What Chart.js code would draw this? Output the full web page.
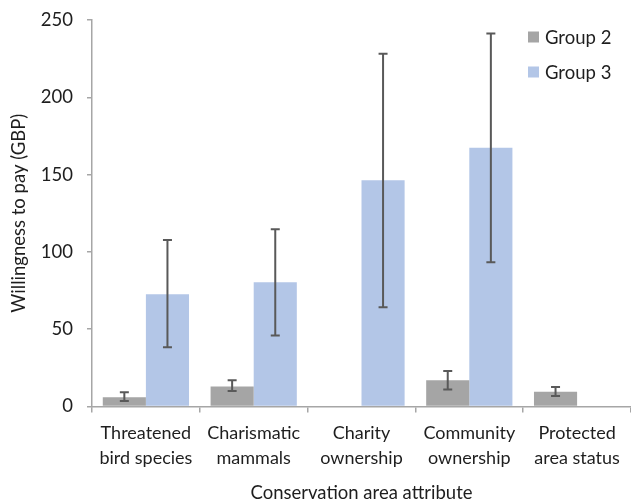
<!DOCTYPE html>
<html>
<head>
<meta charset="utf-8">
<script src="https://cdn.jsdelivr.net/npm/chart.js@4.4.0/dist/chart.umd.min.js"></script>
<style>
html,body{margin:0;padding:0;background:#fff;overflow:hidden;}
#wrap{width:631px;height:504px;position:relative;}
</style>
</head>
<body>
<div id="wrap"><canvas id="c" width="631" height="504"></canvas></div>
<script>
const categories = [["Threatened","bird species"],["Charismatic","mammals"],["Charity","ownership"],["Community","ownership"],["Protected","area status"]];
const seriesNames = ["Group 2","Group 3"];
const group2 = [6, 13, null, 17, 9.6];
const group2Low = [3.5, 10, null, 11, 6.8];
const group2High = [9.2, 17, null, 23, 12.6];
const group3 = [72.6, 80.3, 146.3, 167.4, null];
const group3Low = [38.3, 46, 64.2, 93.3, null];
const group3High = [107.7, 114.6, 228.1, 241.3, null];
const yTicks = [0, 50, 100, 150, 200, 250];
const yTitle = "Willingness to pay (GBP)";
const xTitle = "Conservation area attribute";

const FONT = "Lato, sans-serif";
const AXIS = "#a6a6a6";
const ERR = "#595959";
const TXT = "#1e1e1e";

const errorBars = {
  id: 'errorBars',
  afterDatasetsDraw(chart) {
    const ctx = chart.ctx;
    const y = chart.scales.y;
    const lows = [group2Low, group3Low];
    const highs = [group2High, group3High];
    ctx.save();
    ctx.strokeStyle = ERR;
    ctx.lineWidth = 2;
    chart.data.datasets.forEach((ds, di) => {
      const meta = chart.getDatasetMeta(di);
      meta.data.forEach((bar, i) => {
        const lo = lows[di][i], hi = highs[di][i];
        if (lo == null || hi == null) return;
        const x = bar.x;
        const yl = y.getPixelForValue(lo), yh = y.getPixelForValue(hi);
        ctx.beginPath();
        ctx.moveTo(x, yl); ctx.lineTo(x, yh);
        ctx.moveTo(x - 4.5, yl); ctx.lineTo(x + 4.5, yl);
        ctx.moveTo(x - 4.5, yh); ctx.lineTo(x + 4.5, yh);
        ctx.stroke();
      });
    });
    ctx.restore();
  }
};

const customLegend = {
  id: 'customLegend',
  afterDraw(chart) {
    const ctx = chart.ctx;
    ctx.save();
    ctx.font = "18.5px " + FONT;
    ctx.textBaseline = 'middle';
    chart.data.datasets.forEach((ds, i) => {
      const yc = 37 + i * 35;
      ctx.fillStyle = ds.backgroundColor;
      ctx.fillRect(528, yc - 5.5, 11, 11);
      ctx.fillStyle = TXT;
      ctx.fillText(ds.label, 545, yc + 1);
    });
    ctx.restore();
  }
};

new Chart(document.getElementById('c'), {
  type: 'bar',
  data: {
    labels: categories,
    datasets: [
      { label: seriesNames[0], data: group2, backgroundColor: '#a5a5a5' },
      { label: seriesNames[1], data: group3, backgroundColor: '#b3c6e7' }
    ]
  },
  options: {
    responsive: false,
    animation: false,
    devicePixelRatio: 1,
    layout: { padding: { top: 20, right: 0, left: 0, bottom: 0 } },
    datasets: { bar: { categoryPercentage: 0.8, barPercentage: 1.0 } },
    plugins: { legend: { display: false }, tooltip: { enabled: false } },
    scales: {
      x: {
        afterFit(s) { s.height = 504 - 406.5; s.paddingLeft = 0; s.paddingRight = 0; },
        grid: { display: true, drawOnChartArea: false, offset: true, tickLength: 6, color: AXIS, lineWidth: 1.5 },
        border: { display: true, color: AXIS, width: 1.5 },
        ticks: { color: TXT, font: { family: FONT, size: 18, lineHeight: 1.35 }, padding: 9, maxRotation: 0, autoSkip: false },
        title: { display: true, text: xTitle, color: TXT, font: { family: FONT, size: 18.5 }, padding: { top: 0, bottom: 0 } }
      },
      y: {
        min: 0, max: 250,
        afterFit(s) { s.width = 92; s.paddingTop = 0; s.paddingBottom = 0; },
        afterBuildTicks(s) { s.ticks = yTicks.map(v => ({ value: v })); },
        grid: { display: true, drawOnChartArea: false, tickLength: 5, color: AXIS, lineWidth: 1.5 },
        border: { display: true, color: AXIS, width: 1.5 },
        ticks: { color: TXT, font: { family: FONT, size: 18.5 }, padding: 14 },
        title: { display: true, text: yTitle, color: TXT, font: { family: FONT, size: 18.5 }, padding: { top: 8, bottom: 0 } }
      }
    }
  },
  plugins: [errorBars, customLegend]
});
</script>
</body>
</html>
